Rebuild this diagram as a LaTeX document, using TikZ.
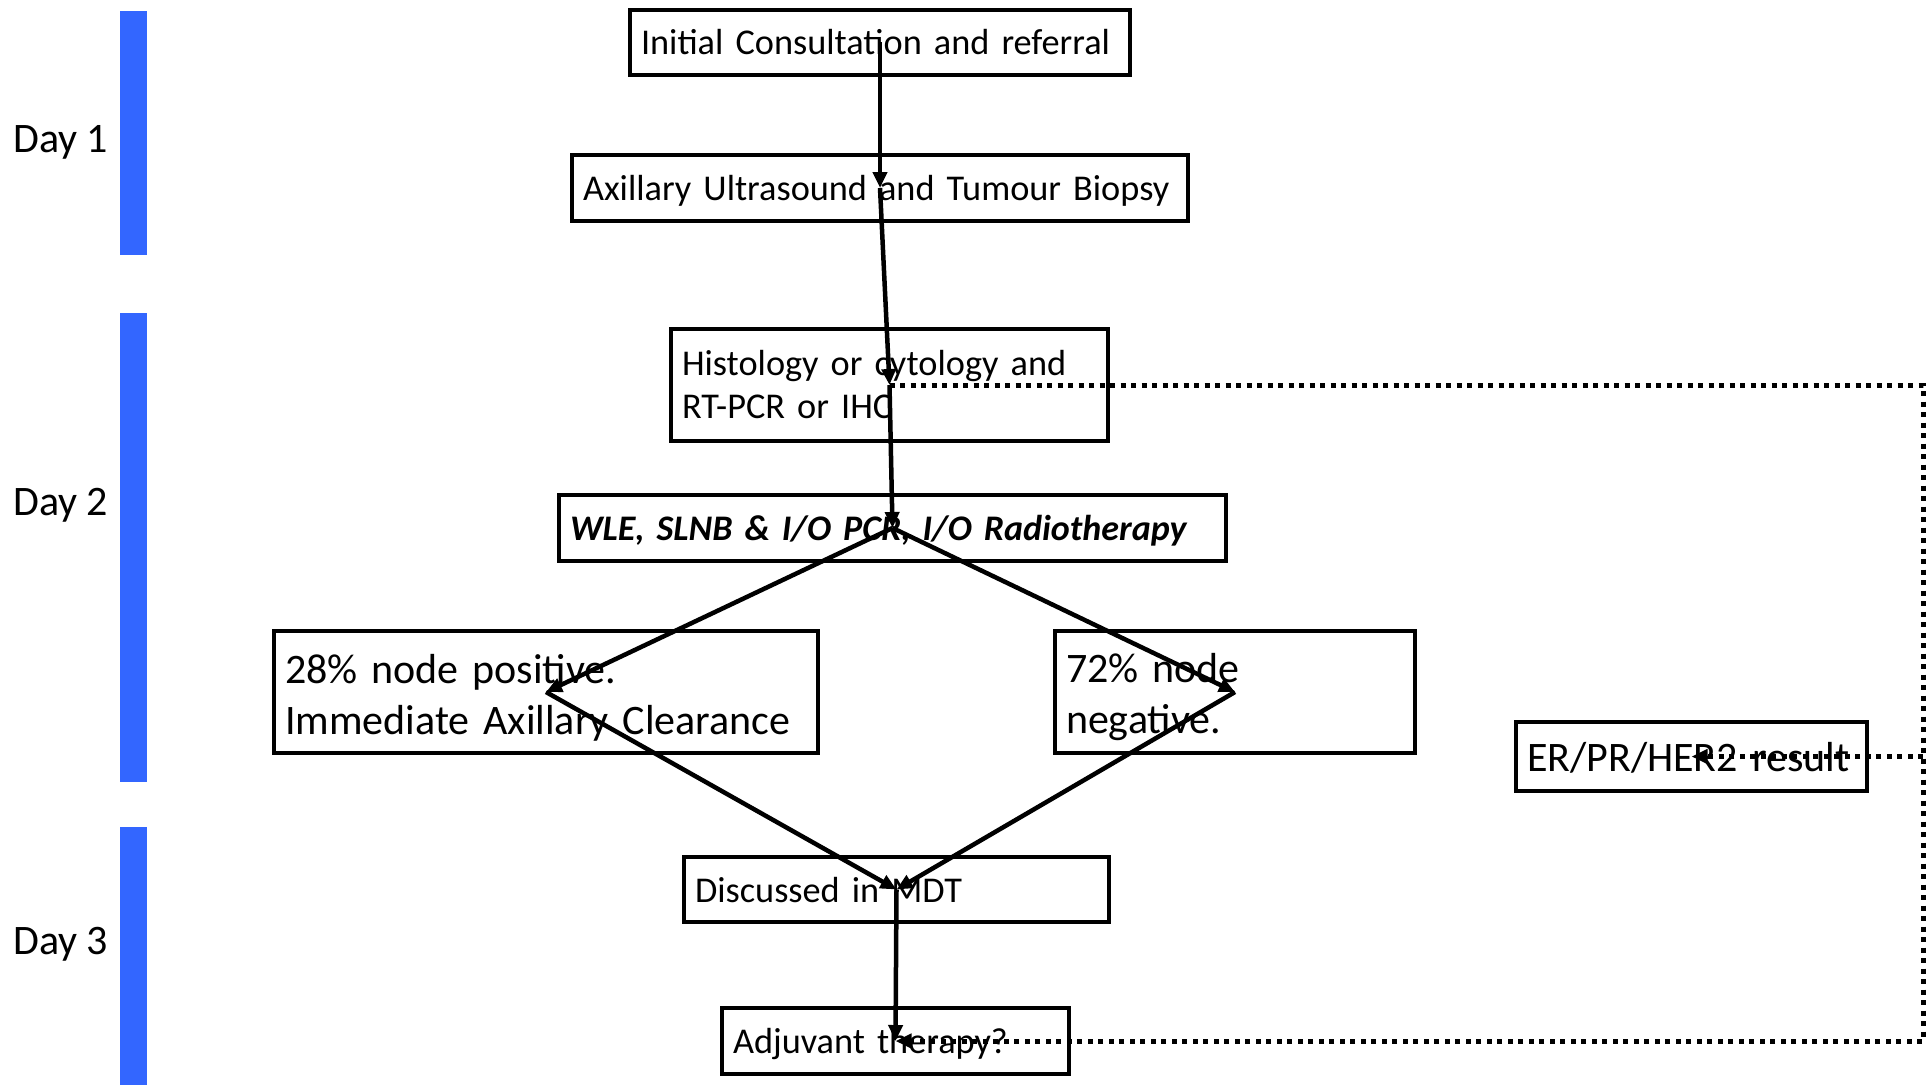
\documentclass[tikz,border=0pt]{standalone}
\usepackage{fontspec}
\setmainfont{Carlito}
\usetikzlibrary{arrows.meta}
\definecolor{barblue}{HTML}{3366FF}
\tikzset{
  box/.style={draw=black, line width=4pt, fill=white, inner xsep=11pt, inner ysep=0pt, align=left, font=\fontsize{36.3}{43}\selectfont},
  onebox/.style={box, text depth=0pt},
  bigbox/.style={box, font=\fontsize{42}{51}\selectfont},
  tip/.style={-{Triangle[length=16pt,width=14pt]}},
  flow/.style={line width=4.5pt, tip},
  dotline/.style={line width=5pt, dash pattern=on 5pt off 5.5pt, tip},
  dayl/.style={anchor=west, inner sep=0pt, text depth=0pt, font=\fontsize{42}{48}\selectfont},
  bar/.style={fill=barblue, draw=none}
}
\begin{document}
\begin{tikzpicture}[x=1pt, y=-1pt]
\useasboundingbox (0,0) rectangle (1926,1085);
% day bars
\fill[bar] (120,11) rectangle (147,255);
\fill[bar] (120,313) rectangle (147,782);
\fill[bar] (120,827) rectangle (147,1085);
\node[dayl] (d1) at (13,139) {Day 1};
\node[dayl] (d2) at (13,502) {Day 2};
\node[dayl] (d3) at (13,941) {Day 3};
% boxes
\node[onebox, text width=478pt, minimum height=65pt] (init) at (880,42) {\mbox{Initial Consultation and referral}};
\node[onebox, text width=594pt, minimum height=66pt] (axil) at (880,188) {\mbox{Axillary Ultrasound and Tumour Biopsy}};
\node[box, text width=415pt, minimum height=112pt] (hist) at (889.5,385) {Histology or cytology and\\RT-PCR or IHC};
\node[onebox, text width=645pt, minimum height=66pt, font=\fontsize{36}{43}\selectfont\bfseries\itshape] (wle) at (892.5,528) {\mbox{WLE, SLNB \& I/O PCR, I/O Radiotherapy}};
\node[bigbox, text width=522pt, minimum height=122pt] (pos) at (546,692) {\rule{0pt}{40pt}28\% node positive.\\Immediate Axillary Clearance};
\node[bigbox, text width=338pt, minimum height=122pt] (neg) at (1235,692) {\rule{0pt}{40pt}72\% node\\negative.};
\node[onebox, font=\fontsize{42}{51}\selectfont, text width=329pt, minimum height=69pt] (er) at (1691.5,756.5) {\mbox{ER/PR/HER2 result}};
\node[onebox, text width=403pt, minimum height=65pt] (mdt) at (896.5,889.5) {\mbox{Discussed in MDT}};
\node[onebox, text width=325pt, minimum height=66pt] (adj) at (895.5,1041) {\mbox{Adjuvant therapy?}};
% connectors
\draw[flow] (init.center) -- (axil.center);
\draw[flow] (axil.center) -- (hist.center);
\draw[flow] (hist.center) -- (wle.center);
\draw[flow] (wle.center) -- (pos.center);
\draw[flow] (wle.center) -- (neg.center);
\draw[flow] (pos.center) -- (mdt.center);
\draw[flow] (neg.center) -- (mdt.center);
\draw[flow] (mdt.center) -- (adj.center);
\coordinate (rt) at (1923,385);
\coordinate (rb) at (1923,1041);
\coordinate (rm) at (1923,756.5);
\draw[dotline] (hist.center) -- (rt) -- (rb) -- (adj.center);
\draw[dotline] (rm) -- (er.center);
\end{tikzpicture}
\end{document}
